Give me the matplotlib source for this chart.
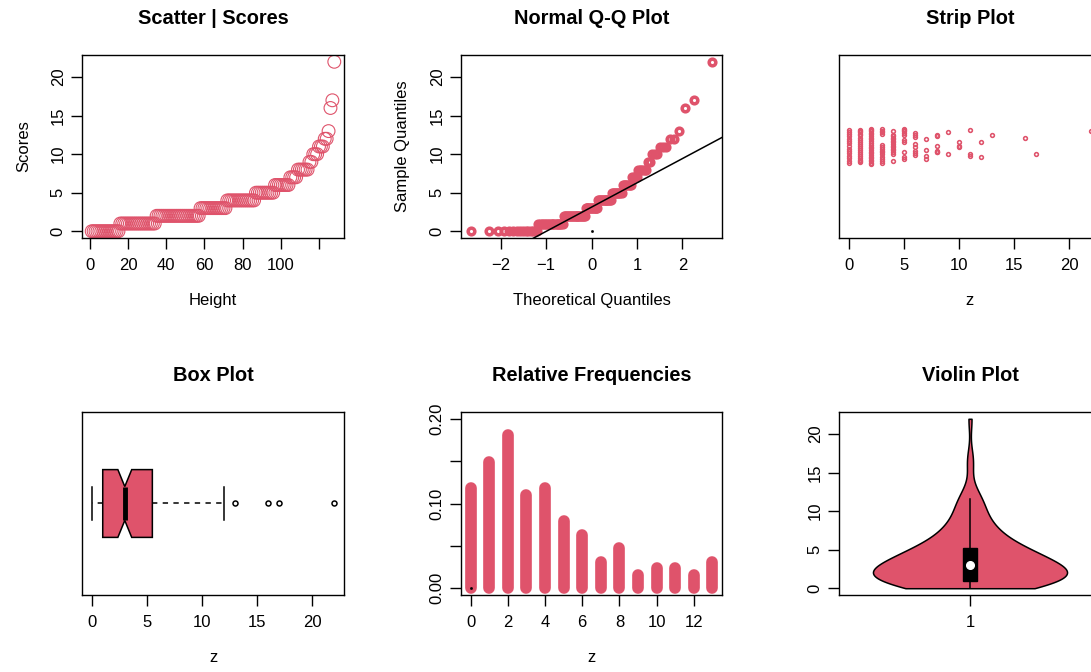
import numpy as np
import matplotlib
matplotlib.use("Agg")
import matplotlib.pyplot as plt
from statistics import NormalDist

plt.rcParams['font.family'] = ['Liberation Sans', 'DejaVu Sans']

# observed scores and how often each one occurs
score_values = [0, 1, 2, 3, 4, 5, 6, 7, 8, 9, 10, 11, 12, 13, 16, 17, 22]
score_counts = [15, 19, 23, 14, 15, 10, 8, 4, 6, 2, 3, 3, 2, 1, 1, 1, 1]

# relative frequency panel (values 0..13)
freq_x = [0, 1, 2, 3, 4, 5, 6, 7, 8, 9, 10, 11, 12, 13]
rel_freq = [0.118, 0.149, 0.181, 0.110, 0.118, 0.079, 0.063,
            0.031, 0.047, 0.016, 0.024, 0.024, 0.016, 0.031]

# vertical jitter of the strip chart points, per score value
strip_jitter = {
    0: [0.095, 0.088, 0.074, 0.062, 0.047, 0.030, 0.018, 0.004, -0.012,
        -0.028, -0.041, -0.057, -0.069, -0.083, -0.097],
    1: [0.098, 0.091, 0.083, 0.072, 0.066, 0.051, 0.040, 0.027, 0.013, 0.002,
        -0.009, -0.021, -0.033, -0.046, -0.055, -0.068, -0.077, -0.088, -0.094],
    2: [0.104, 0.097, 0.090, 0.079, 0.071, 0.062, 0.053, 0.044, 0.031, 0.022,
        0.011, 0.000, -0.010, -0.019, -0.030, -0.041, -0.052, -0.061, -0.070,
        -0.079, -0.088, -0.095, -0.101],
    3: [0.102, 0.094, 0.085, 0.073, 0.010, 0.000, -0.012, -0.025, -0.034,
        -0.046, -0.060, -0.071, -0.083, -0.097],
    4: [0.092, 0.070, 0.060, 0.051, 0.043, 0.035, 0.026, 0.017, 0.005, -0.003,
        -0.012, -0.022, -0.032, -0.046, -0.086],
    5: [0.104, 0.100, 0.092, 0.080, 0.068, 0.037, 0.027, -0.032, -0.062, -0.072],
    6: [0.080, 0.066, 0.057, 0.017, -0.003, -0.025, -0.038, -0.048],
    7: [0.045, -0.021, -0.058, -0.072],
    8: [0.068, 0.064, 0.005, -0.027, -0.032, -0.030],
    9: [0.088, -0.046],
    10: [0.029, -0.003, 0.002],
    11: [0.096, -0.046, -0.054],
    12: [0.025, -0.064],
    13: [0.068],
    16: [0.051],
    17: [-0.042],
    22: [0.092],
}

col = '#DF536B'

z = np.repeat(score_values, score_counts)
n = len(z)


def rlim(lo, hi):
    pad = 0.04 * (hi - lo)
    return lo - pad, hi + pad


def style(ax):
    for s in ax.spines.values():
        s.set_linewidth(1.0)
        s.set_color('black')
    ax.tick_params(direction='out', length=7.7, width=1.0, labelsize=12,
                   color='black', pad=7)
    ax.tick_params(axis='y', labelrotation=90, pad=4)
    for lab in ax.get_yticklabels():
        lab.set_va('center')


def title(ax, txt):
    ax.set_title(txt, fontsize=14.4, fontweight='bold', pad=22)


fig = plt.figure(figsize=(10.91, 6.72), dpi=100)
W, H = 1091, 672


def panel(left, top, right, bottom):
    return fig.add_axes([left / W, 1 - bottom / H, (right - left) / W,
                         (bottom - top) / H])


ax1 = panel(82, 55, 344, 238)
ax2 = panel(461, 55, 722, 238)
ax3 = panel(839, 55, 1101, 238)
ax4 = panel(82, 412, 344, 595)
ax5 = panel(461, 412, 722, 595)
ax6 = panel(839, 412, 1101, 595)

# sorted scores against their index
idx = np.arange(1, n + 1)
ax1.scatter(idx, np.sort(z), s=85, facecolors='none', edgecolors=col,
            linewidths=0.8)
ax1.set_xlim(rlim(1, n))
ax1.set_ylim(rlim(0, 22))
ax1.set_xticks([0, 20, 40, 60, 80, 100, 120])
ax1.set_xticklabels(['0', '20', '40', '60', '80', '100', ''])
ax1.set_yticks([0, 5, 10, 15, 20])
ax1.set_xlabel('Height', fontsize=12, labelpad=14)
ax1.set_ylabel('Scores', fontsize=12, labelpad=14)
title(ax1, 'Scatter | Scores')
style(ax1)

# normal Q-Q plot with reference line through the quartiles
nd = NormalDist()
theo = np.array([nd.inv_cdf((i - 0.5) / n) for i in idx])
ax2.plot(theo, np.sort(z), 'o', ms=4.8, mfc='none', mec=col, mew=2.5)
q1, q3 = np.quantile(z, [0.25, 0.75])
t1, t3 = nd.inv_cdf(0.25), nd.inv_cdf(0.75)
slope = (q3 - q1) / (t3 - t1)
icpt = q1 - slope * t1
xl = rlim(theo.min(), theo.max())
ax2.plot(xl, [icpt + slope * xl[0], icpt + slope * xl[1]], color='black',
         lw=1.1)
ax2.plot([0], [0], 's', ms=0.9, color='black')
ax2.set_xlim(xl)
ax2.set_ylim(rlim(0, 22))
ax2.set_xticks([-2, -1, 0, 1, 2])
ax2.set_xticklabels(['\u22122', '\u22121', '0', '1', '2'])
ax2.set_yticks([0, 5, 10, 15, 20])
ax2.set_xlabel('Theoretical Quantiles', fontsize=12, labelpad=14)
ax2.set_ylabel('Sample Quantiles', fontsize=12, labelpad=14)
title(ax2, 'Normal Q-Q Plot')
style(ax2)

# jittered strip chart
sx, sy = [], []
for v in score_values:
    for j in strip_jitter[v]:
        sx.append(v)
        sy.append(1 + j)
ax3.plot(sx, sy, 'o', ms=2.7, mfc='none', mec=col, mew=1.15)
ax3.set_xlim(rlim(0, 22))
ax3.set_ylim(rlim(0.5, 1.5))
ax3.set_xticks([0, 5, 10, 15, 20])
ax3.set_yticks([])
ax3.set_xlabel('z', fontsize=12, labelpad=14)
title(ax3, 'Strip Plot')
style(ax3)


# notched box plot with Tukey hinges
def hinges(x):
    x = np.sort(x)
    m = len(x)
    nh = (m + 3) // 2 / 2
    d = [1, nh, (m + 1) / 2, m + 1 - nh, m]
    return [0.5 * (x[int(np.floor(p)) - 1] + x[int(np.ceil(p)) - 1]) for p in d]


lo_, h1, med, h3, hi_ = hinges(z)
iqr = h3 - h1
inside = z[(z >= h1 - 1.5 * iqr) & (z <= h3 + 1.5 * iqr)]
stats = [dict(med=med, q1=h1, q3=h3, whislo=inside.min(), whishi=inside.max(),
              cilo=med - 1.58 * iqr / np.sqrt(n),
              cihi=med + 1.58 * iqr / np.sqrt(n),
              fliers=z[(z < inside.min()) | (z > inside.max())])]
ax4.bxp(stats, positions=[1], widths=0.4, orientation='horizontal',
        shownotches=True, patch_artist=True, capwidths=0.2,
        boxprops=dict(facecolor=col, edgecolor='black', lw=1.1),
        medianprops=dict(color='black', lw=3.5, solid_capstyle='butt'),
        whiskerprops=dict(color='black', lw=1.1, linestyle=(0, (3.5, 3.5))),
        capprops=dict(color='black', lw=1.1),
        flierprops=dict(marker='o', ms=3.6, mfc='none', mec='black', mew=1.1))
ax4.set_xlim(rlim(0, 22))
ax4.set_ylim(rlim(0.5, 1.5))
ax4.set_xticks([0, 5, 10, 15, 20])
ax4.set_xticklabels(['0', '5', '10', '15', '20'])
ax4.set_yticks([])
ax4.set_xlabel('z', fontsize=12, labelpad=14)
title(ax4, 'Box Plot')
style(ax4)

# relative frequencies as thick rounded spikes
lc = ax5.vlines(freq_x, 0, rel_freq, color=col, lw=8.4)
lc.set_capstyle('round')
ax5.plot([0], [0], 's', ms=0.9, color='black')
ax5.set_xlim(rlim(0, 13))
ax5.set_ylim(rlim(0, 0.2))
ax5.set_xticks([0, 2, 4, 6, 8, 10, 12])
ax5.set_yticks([0, 0.05, 0.10, 0.15, 0.20])
ax5.set_yticklabels(['0.00', '', '0.10', '', '0.20'])
ax5.set_xlabel('z', fontsize=12, labelpad=14)
title(ax5, 'Relative Frequencies')
style(ax5)

# violin: kernel density trimmed to the data range plus a slim box
h = np.std(z, ddof=1) * (4 / (3 * n)) ** 0.2
yg = np.linspace(z.min(), z.max(), 512)
dens = np.exp(-0.5 * ((yg[:, None] - z[None, :]) / h) ** 2).sum(axis=1)
half = 0.4 * dens / dens.max()
ax6.fill_betweenx(yg, 1 - half, 1 + half, facecolor=col, edgecolor='black',
                  lw=1.1)
vq1, vmed, vq3 = np.quantile(z, [0.25, 0.5, 0.75])
viqr = vq3 - vq1
ax6.plot([1, 1], [max(z.min(), vq1 - 1.5 * viqr),
                  min(z.max(), vq3 + 1.5 * viqr)], color='black', lw=1.1)
ax6.add_patch(plt.Rectangle((1 - 0.027, vq1), 0.054, vq3 - vq1,
                            facecolor='black', edgecolor='black'))
ax6.plot([1], [vmed], 'o', ms=5.5, color='white')
ax6.set_xlim(rlim(0.5, 1.5))
ax6.set_ylim(rlim(0, 22))
ax6.set_xticks([1])
ax6.set_yticks([0, 5, 10, 15, 20])
title(ax6, 'Violin Plot')
style(ax6)

fig.savefig('out.png', dpi=100)
